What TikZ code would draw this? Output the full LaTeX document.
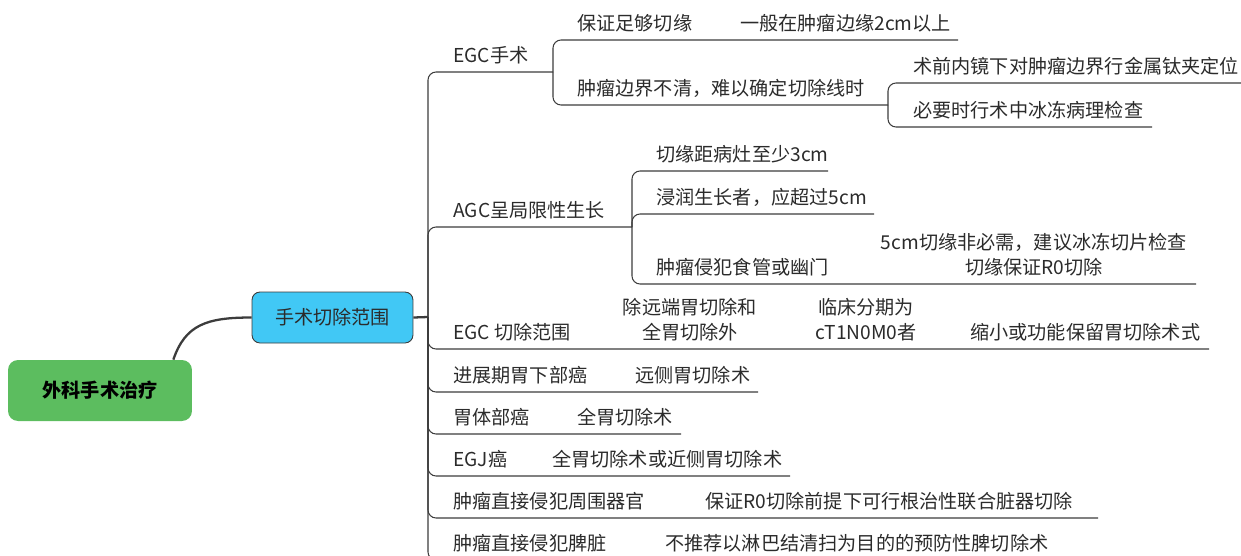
\documentclass[tikz,border=0pt]{standalone}
\usepackage{fontspec,xcolor}
\setmainfont{Noto Sans CJK SC}
\definecolor{leafgreen}{HTML}{5CBD5F}
\definecolor{skyblue}{HTML}{41C8F5}
\definecolor{inkgray}{HTML}{2B2B2B}
\definecolor{linegray}{HTML}{3C3C3C}

\begin{document}
\begin{tikzpicture}[x=0.02cm,y=-0.02cm,text=inkgray,
        font=\fontsize{10.9}{14.2}\selectfont,
        topic/.style={anchor=base west,inner sep=0pt},
        pair/.style={anchor=base,inner sep=0pt,align=center},
        branch/.style={draw=linegray,line width=0.6pt,rounded corners=0.16cm}]
    \useasboundingbox (0,0) rectangle (1241,555);

    % root and main topic
    \node[fill=leafgreen,rounded corners=0.2cm,minimum width=3.68cm,minimum height=1.22cm,
        text=black,font=\fontsize{10.9}{14.2}\selectfont\bfseries] (root) at (100,390.5) {外科手术治疗};
    \node[fill=skyblue,draw=linegray,line width=0.5pt,rounded corners=0.16cm,
        minimum width=3.22cm,minimum height=1.02cm] (main) at (332.5,317.5) {手术切除范围};
    \draw[linegray,line width=1.3pt] ([xshift=-0.38cm]root.north east)
        .. controls +(12,-35) and +(-45,0) .. (main.west);

    \coordinate (hub) at (428,317);
    \draw[linegray,line width=1.3pt] (main.east) -- (hub);

    % junctions and line ends
    \coordinate (egcJ) at (553,72);
    \coordinate (unclearJ) at (888,105);
    \coordinate (agcJ) at (632,227);
    \coordinate (keepEnd) at (958,40);
    \coordinate (clipEnd) at (1245,83);
    \coordinate (frozenEnd) at (1152,127);
    \coordinate (marginEnd) at (828,171);
    \coordinate (infilEnd) at (874,214);
    \coordinate (invadeEnd) at (1196,284);
    \coordinate (rangeEnd) at (1209,349);
    \coordinate (advEnd) at (758,392);
    \coordinate (bodyEnd) at (681,434);
    \coordinate (egjEnd) at (790,476);
    \coordinate (organEnd) at (1098,518);
    \coordinate (spleenEnd) at (1060,560);

    \draw[branch] (hub) |- (egcJ);
    \draw[branch] (hub) |- (agcJ);
    \draw[branch] (hub) |- (rangeEnd);
    \draw[branch] (hub) |- (advEnd);
    \draw[branch] (hub) |- (bodyEnd);
    \draw[branch] (hub) |- (egjEnd);
    \draw[branch] (hub) |- (organEnd);
    \draw[branch] (hub) |- (spleenEnd);
    \draw[branch] (egcJ) |- (keepEnd);
    \draw[branch] (egcJ) |- (unclearJ);
    \draw[branch] (unclearJ) |- (clipEnd);
    \draw[branch] (unclearJ) |- (frozenEnd);
    \draw[branch] (agcJ) |- (marginEnd);
    \draw[branch] (agcJ) |- (infilEnd);
    \draw[branch] (agcJ) |- (invadeEnd);

    % EGC surgery
    \node[topic] (egc) at (453,62) {EGC手术};
    \node[topic] (keep) at (577,30) {保证足够切缘};
    \node[topic] (keepNote) at (740,30) {一般在肿瘤边缘2cm以上};
    \node[topic] (unclear) at (577,95) {肿瘤边界不清，难以确定切除线时};
    \node[topic] (clip) at (913,73) {术前内镜下对肿瘤边界行金属钛夹定位};
    \node[topic] (frozen) at (913,117) {必要时行术中冰冻病理检查};

    % AGC
    \node[topic] (agc) at (453,217) {AGC呈局限性生长};
    \node[topic] (margin) at (656,161) {切缘距病灶至少3cm};
    \node[topic] (infil) at (656,204) {浸润生长者，应超过5cm};
    \node[topic] (invade) at (656,274) {肿瘤侵犯食管或幽门};
    \node[pair] (invadeNote) at (1034,274) {5cm切缘非必需，建议冰冻切片检查\\切缘保证R0切除};

    % EGC range
    \node[topic] (range) at (453,339) {EGC 切除范围};
    \node[pair] (rangeA) at (690,339) {除远端胃切除和\\全胃切除外};
    \node[pair] (rangeB) at (866,339) {临床分期为\\cT1N0M0者};
    \node[topic] (rangeC) at (970,339) {缩小或功能保留胃切除术式};

    % other cases
    \node[topic] (adv) at (453,382) {进展期胃下部癌};
    \node[topic] (advOp) at (635,382) {远侧胃切除术};
    \node[topic] (body) at (453,424) {胃体部癌};
    \node[topic] (bodyOp) at (577,424) {全胃切除术};
    \node[topic] (egj) at (453,466) {EGJ癌};
    \node[topic] (egjOp) at (552,466) {全胃切除术或近侧胃切除术};
    \node[topic] (organ) at (453,508) {肿瘤直接侵犯周围器官};
    \node[topic] (organOp) at (705,508) {保证R0切除前提下可行根治性联合脏器切除};
    \node[topic] (spleen) at (453,550) {肿瘤直接侵犯脾脏};
    \node[topic] (spleenOp) at (665,550) {不推荐以淋巴结清扫为目的的预防性脾切除术};
\end{tikzpicture}
\end{document}
